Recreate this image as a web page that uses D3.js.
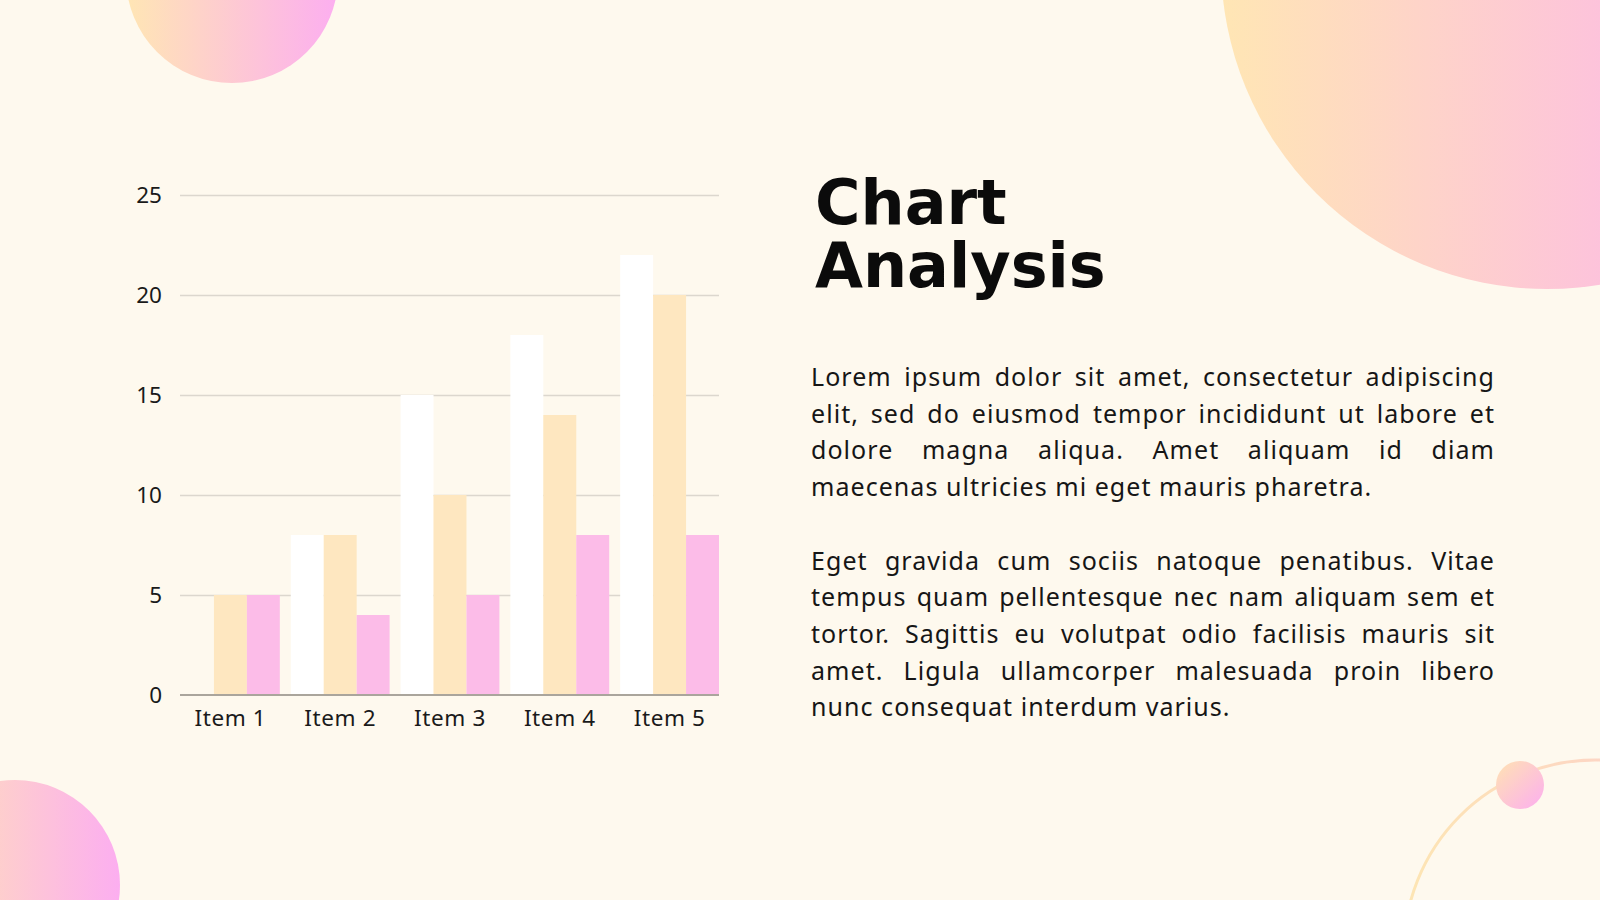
<!DOCTYPE html>
<html>
<head>
<meta charset="utf-8">
<script src="https://cdnjs.cloudflare.com/ajax/libs/d3/7.8.5/d3.min.js"></script>
<style>
  html, body { margin: 0; padding: 0; background: #fef9ee; }
  svg { display: block; }
</style>
</head>
<body>
<div id="slide"></div>
<script>
// chart data
var items = ["Item 1", "Item 2", "Item 3", "Item 4", "Item 5"];
var seriesNames = ["Series 1", "Series 2", "Series 3"];
var series1 = [0, 8, 15, 18, 22];
var series2 = [5, 8, 10, 14, 20];
var series3 = [5, 4, 5, 8, 8];
var yTicks = [0, 5, 10, 15, 20, 25];

// slide texts
var titleLines = ["Chart", "Analysis"];
var paragraphs = [
    ["Lorem ipsum dolor sit amet, consectetur adipiscing",
     "elit, sed do eiusmod tempor incididunt ut labore et",
     "dolore magna aliqua. Amet aliquam id diam",
     "maecenas ultricies mi eget mauris pharetra."],
    ["Eget gravida cum sociis natoque penatibus. Vitae",
     "tempus quam pellentesque nec nam aliquam sem et",
     "tortor. Sagittis eu volutpat odio facilisis mauris sit",
     "amet. Ligula ullamcorper malesuada proin libero",
     "nunc consequat interdum varius."]
];

// build the table the grouped bars need
var table = items.map(function (d, i) {
    return { item: d, values: [series1[i], series2[i], series3[i]] };
});

var width = 1600, height = 900;
var bodyFont = "'Noto Sans', 'Open Sans', sans-serif";

var svg = d3.select("#slide")
    .append("svg")
    .attr("width", width)
    .attr("height", height)
    .attr("viewBox", "0 0 " + width + " " + height);

svg.append("rect")
    .attr("width", width)
    .attr("height", height)
    .attr("fill", "#fef9ee");

// gradients for the decorative shapes
var defs = svg.append("defs");
var grad = defs.append("linearGradient").attr("id", "peach")
    .attr("x1", 0).attr("y1", 0).attr("x2", 1).attr("y2", 0);
grad.append("stop").attr("offset", "0%").attr("stop-color", "#ffe6b4");
grad.append("stop").attr("offset", "100%").attr("stop-color", "#fcaef0");

var gradBig = defs.append("linearGradient").attr("id", "peachBig")
    .attr("x1", 0).attr("y1", 0).attr("x2", 1).attr("y2", 0);
gradBig.append("stop").attr("offset", "0%").attr("stop-color", "#ffe6b4");
gradBig.append("stop").attr("offset", "60%").attr("stop-color", "#fdc2dc");
gradBig.append("stop").attr("offset", "100%").attr("stop-color", "#fcaef0");

var gradDiag = defs.append("linearGradient").attr("id", "peachDiag")
    .attr("x1", 0).attr("y1", 0).attr("x2", 1).attr("y2", 1);
gradDiag.append("stop").attr("offset", "0%").attr("stop-color", "#ffe3b2");
gradDiag.append("stop").attr("offset", "100%").attr("stop-color", "#fcaef0");

var gradArc = defs.append("linearGradient").attr("id", "arcStroke")
    .attr("gradientUnits", "userSpaceOnUse")
    .attr("x1", 1400).attr("y1", 0).attr("x2", 1600).attr("y2", 0);
gradArc.append("stop").attr("offset", "0%").attr("stop-color", "#fde6b3");
gradArc.append("stop").attr("offset", "100%").attr("stop-color", "#fdd6c4");

// decorative circles
var deco = svg.append("g");
deco.append("circle").attr("cx", 232).attr("cy", -23).attr("r", 106).attr("fill", "url(#peach)");
deco.append("circle").attr("cx", 1547).attr("cy", -37).attr("r", 326).attr("fill", "url(#peachBig)");
deco.append("circle").attr("cx", 15).attr("cy", 885).attr("r", 105).attr("fill", "url(#peach)");
deco.append("circle").attr("cx", 1595).attr("cy", 951).attr("r", 191)
    .attr("fill", "none").attr("stroke", "url(#arcStroke)").attr("stroke-width", 3);
deco.append("circle").attr("cx", 1520).attr("cy", 785).attr("r", 24).attr("fill", "url(#peachDiag)");

// scales
var x = d3.scaleBand()
    .domain(items)
    .range([181, 719])
    .paddingInner(0.1)
    .paddingOuter(0);

var xSub = d3.scaleBand()
    .domain(seriesNames)
    .range([0, x.bandwidth()]);

var y = d3.scaleLinear()
    .domain([0, 25])
    .range([695, 195]);

var color = d3.scaleOrdinal()
    .domain(seriesNames)
    .range(["#ffffff", "#fee7c0", "#fcbce8"]);

// grid lines (drawn under the bars)
var yAxis = svg.append("g")
    .attr("transform", "translate(180,0)")
    .call(d3.axisLeft(y).tickValues(yTicks).tickSize(-539).tickPadding(18).tickFormat(d3.format("d")));
yAxis.select(".domain").remove();
yAxis.selectAll(".tick line")
    .attr("stroke", "#dcd7ce")
    .attr("stroke-width", 1.5)
    .filter(function (d) { return d === 0; })
    .remove();
yAxis.selectAll(".tick text")
    .attr("fill", "#1a1a1a")
    .style("font-family", bodyFont)
    .style("font-size", "22.5px");

// bars
svg.append("g")
    .selectAll("g")
    .data(table)
    .enter()
    .append("g")
    .attr("transform", function (d) { return "translate(" + x(d.item) + ",0)"; })
    .selectAll("rect")
    .data(function (d) {
        return d.values.map(function (v, i) { return { key: seriesNames[i], value: v }; });
    })
    .enter()
    .append("rect")
    .attr("x", function (d) { return xSub(d.key); })
    .attr("y", function (d) { return y(d.value); })
    .attr("width", xSub.bandwidth())
    .attr("height", function (d) { return y(0) - y(d.value); })
    .attr("fill", function (d) { return color(d.key); });

// x axis with the baseline
var xAxis = svg.append("g")
    .attr("transform", "translate(0," + y(0) + ")")
    .call(d3.axisBottom(x).tickSize(0).tickPadding(15));
xAxis.select(".domain")
    .attr("stroke", "#aaa59c")
    .attr("stroke-width", 2)
    .attr("d", "M180,0H719");
xAxis.selectAll(".tick text")
    .attr("fill", "#1a1a1a")
    .style("font-family", bodyFont)
    .style("font-size", "22.5px")
    .style("letter-spacing", "0.6px");

// title, one text block with two lines
svg.append("text")
    .attr("fill", "#0b0b0b")
    .style("font-family", "'DejaVu Sans', sans-serif")
    .style("font-weight", "bold")
    .style("font-size", "62px")
    .selectAll("tspan")
    .data(titleLines)
    .enter()
    .append("tspan")
    .attr("x", 815)
    .attr("y", function (d, i) { return 224 + i * 63; })
    .text(function (d) { return d; });

// justified paragraphs
var textLeft = 811, textRight = 1495, lineGap = 36.7, firstBase = 386;
var body = svg.append("g")
    .attr("fill", "#161616")
    .style("font-family", bodyFont)
    .style("font-size", "25px")
    .style("letter-spacing", "1.05px");

var lineNo = 0;
paragraphs.forEach(function (lines, p) {
    lines.forEach(function (line, li) {
        var base = firstBase + lineNo * lineGap;
        var t = body.append("text").attr("y", base);
        if (li === lines.length - 1) {
            t.attr("x", textLeft).text(line);
        } else {
            var words = line.split(" ");
            var spans = t.selectAll("tspan")
                .data(words)
                .enter()
                .append("tspan")
                .attr("y", base)
                .text(function (d) { return d; });
            var widths = [];
            spans.each(function () { widths.push(this.getComputedTextLength()); });
            var total = d3.sum(widths);
            var gap = Math.max(4, (textRight - textLeft - total) / (words.length - 1));
            var pos = textLeft;
            spans.attr("x", function (d, i) {
                var px = pos;
                pos += widths[i] + gap;
                return px;
            });
        }
        lineNo++;
    });
    lineNo++;
});
</script>
</body>
</html>
